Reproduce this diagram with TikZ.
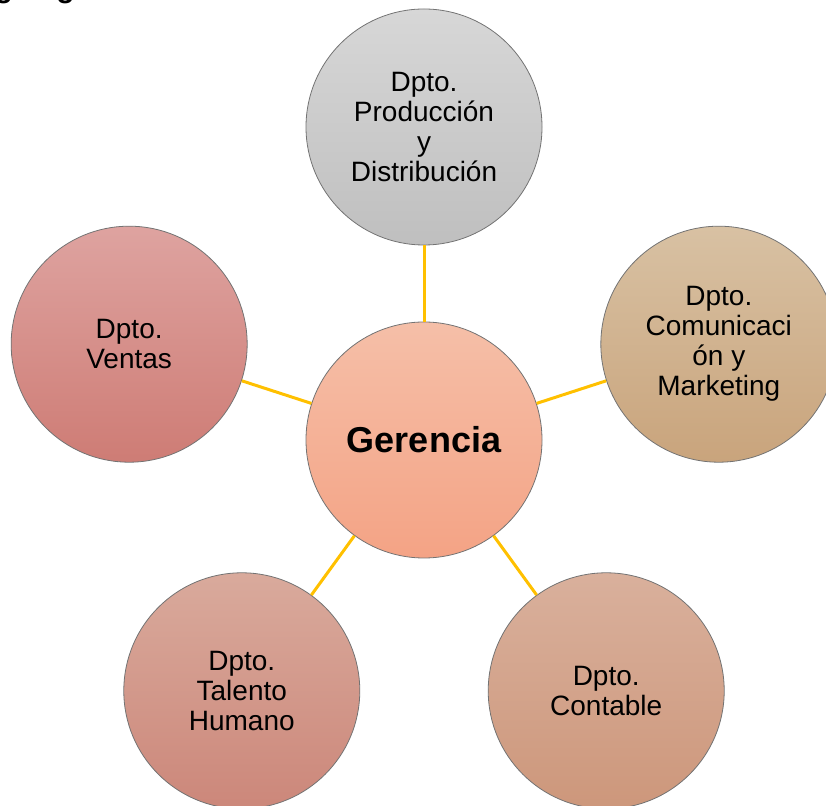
\documentclass[tikz,border=0pt]{standalone}
\usepackage{fontspec}
\setmainfont{Liberation Sans}
\usetikzlibrary{positioning}

%--- fill colours (top / bottom of each circle) ---
\definecolor{linkgold}{HTML}{FFC000}
\definecolor{gerTop}{HTML}{F5BFA8}
\definecolor{gerBot}{HTML}{F4A385}
\definecolor{prodTop}{HTML}{D7D7D7}
\definecolor{prodBot}{HTML}{BFBFBF}
\definecolor{ventTop}{HTML}{DEA3A0}
\definecolor{ventBot}{HTML}{CE7C75}
\definecolor{comTop}{HTML}{D8C1A3}
\definecolor{comBot}{HTML}{C9A47C}
\definecolor{talTop}{HTML}{D9AA9C}
\definecolor{talBot}{HTML}{CC877A}
\definecolor{contTop}{HTML}{D9B09C}
\definecolor{contBot}{HTML}{CD977B}

\begin{document}
\begin{tikzpicture}[
  x=1pt, y=1pt,
  %--- style definitions ---
  dept/.style 2 args = {circle, draw=black!55, line width=0.8pt,
                        minimum size=236pt, inner sep=0pt, align=center,
                        top color=#1, bottom color=#2,
                        font=\fontsize{28}{30}\selectfont},
  link/.style        = {draw=linkgold, line width=3pt},
  heading/.style     = {anchor=base west, inner sep=0pt,
                        font=\fontsize{30}{36}\selectfont\bfseries},
]
\useasboundingbox (0,0) rectangle (826,805);

%% ── TITLE (runs off the top edge) ─────────────────────────────────────────
\node[heading] (titulo) at (-40.5,807) {Organigrama};

%% ── CENTRE ────────────────────────────────────────────────────────────────
\node[dept={gerTop}{gerBot}, font=\fontsize{36}{40}\selectfont\bfseries]
      (ger) at (424,365) {Gerencia};

%% ── DEPARTMENTS ───────────────────────────────────────────────────────────
\node[dept={prodTop}{prodBot}] (prod) at ([shift={(90:313)}]ger.center)
      {Dpto.\\Producción\\y\\Distribución};
\node[dept={comTop}{comBot}]   (com)  at ([shift={(18:310)}]ger.center)
      {Dpto.\\Comunicaci\\ón y\\Marketing};
\node[dept={contTop}{contBot}] (cont) at ([shift={(-54:310)}]ger.center)
      {Dpto.\\Contable};
\node[dept={talTop}{talBot}]   (tal)  at ([shift={(-126:310)}]ger.center)
      {Dpto.\\Talento\\Humano};
\node[dept={ventTop}{ventBot}] (vent) at ([shift={(162:310)}]ger.center)
      {Dpto.\\Ventas};

%% ── LINKS ─────────────────────────────────────────────────────────────────
\draw[link] (ger) -- (prod);
\draw[link] (ger) -- (com);
\draw[link] (ger) -- (cont);
\draw[link] (ger) -- (tal);
\draw[link] (ger) -- (vent);

\end{tikzpicture}
\end{document}
